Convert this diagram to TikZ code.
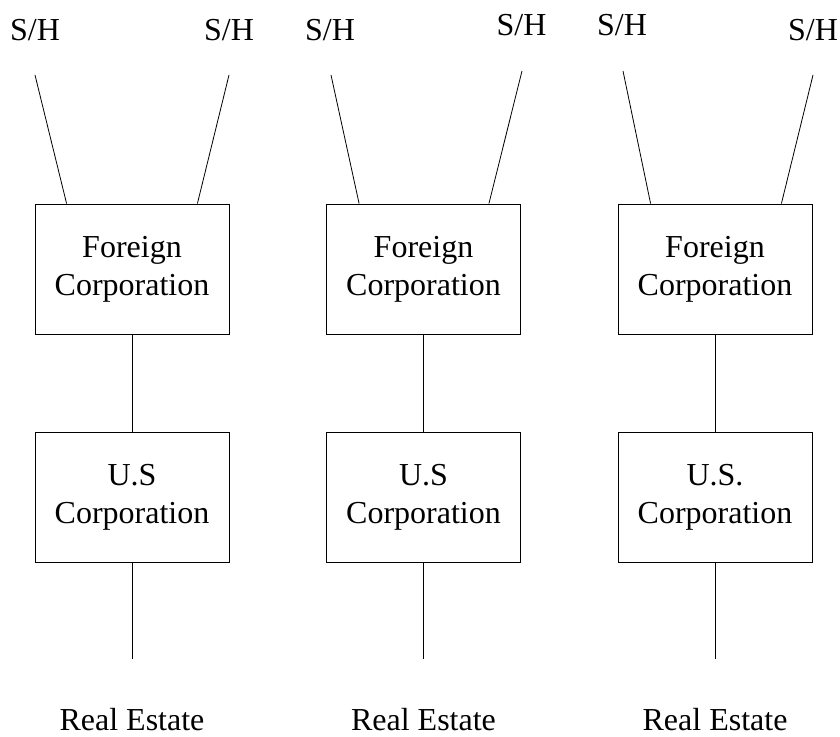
\documentclass[tikz,border=0pt]{standalone}
\usepackage{fontspec}
\setmainfont{Liberation Serif}
\usetikzlibrary{calc}
\begin{document}
\begin{tikzpicture}[x=1pt,y=-1pt,
  every node/.style={font=\fontsize{32}{38}\selectfont},
  corpbox/.style={draw,line width=0.8pt,minimum width=194pt,minimum height=130pt,inner sep=0pt,align=center},
  lbl/.style={anchor=base,inner sep=0pt},
  link/.style={line width=0.8pt}]
\useasboundingbox (0,0) rectangle (840,736);
% column 1
\node[corpbox] (f1) at (132,269) {Foreign\\Corporation};
\node[corpbox] (u1) at (132,497) {U.S\\Corporation};
\node[lbl] (s1a) at (35,40) {S/H};
\node[lbl] (s1b) at (229,40) {S/H};
\node[lbl] (r1) at (132,730) {Real Estate};
\coordinate (t1a) at (35,75);
\coordinate (t1b) at (229,75);
\coordinate (e1) at (132,659);
\draw[link] (t1a) -- ($(f1.north west)+(32,0)$);
\draw[link] (t1b) -- ($(f1.north east)+(-32,0)$);
\draw[link] (f1) -- (u1);
\draw[link] (u1) -- (e1);
% column 2
\node[corpbox] (f2) at (423.5,269) {Foreign\\Corporation};
\node[corpbox] (u2) at (423.5,497) {U.S\\Corporation};
\node[lbl] (s2a) at (330,40) {S/H};
\node[lbl] (s2b) at (521.5,35) {S/H};
\node[lbl] (r2) at (423.5,730) {Real Estate};
\coordinate (t2a) at (331,75);
\coordinate (t2b) at (522,71);
\coordinate (e2) at (423.5,659);
\draw[link] (t2a) -- ($(f2.north west)+(33,0)$);
\draw[link] (t2b) -- ($(f2.north east)+(-32,0)$);
\draw[link] (f2) -- (u2);
\draw[link] (u2) -- (e2);
% column 3
\node[corpbox] (f3) at (715,269) {Foreign\\Corporation};
\node[corpbox] (u3) at (715,497) {U.S.\\Corporation};
\node[lbl] (s3a) at (622,35) {S/H};
\node[lbl] (s3b) at (813,40) {S/H};
\node[lbl] (r3) at (715,730) {Real Estate};
\coordinate (t3a) at (623,71);
\coordinate (t3b) at (813,75);
\coordinate (e3) at (715,659);
\draw[link] (t3a) -- ($(f3.north west)+(33,0)$);
\draw[link] (t3b) -- ($(f3.north east)+(-31,0)$);
\draw[link] (f3) -- (u3);
\draw[link] (u3) -- (e3);
\end{tikzpicture}
\end{document}
